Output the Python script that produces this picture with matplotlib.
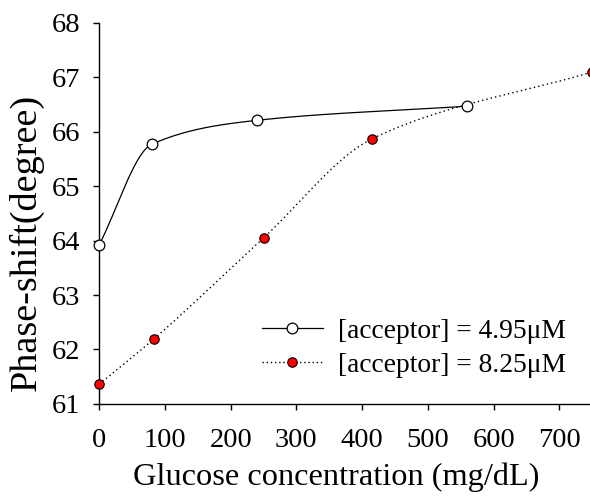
import numpy as np
import matplotlib.pyplot as plt

plt.rcParams['font.family'] = ['Liberation Serif', 'DejaVu Serif']

# Measured phase shift vs glucose concentration
glucose_a = [0, 80, 240, 560]
shift_a = [63.92, 65.77, 66.21, 66.47]
label_a = "[acceptor] = 4.95\u03bcM"

glucose_b = [0, 83, 250, 415, 750]
shift_b = [61.36, 62.19, 64.05, 65.87, 67.10]
label_b = "[acceptor] = 8.25\u03bcM"

x_ticks = [0, 100, 200, 300, 400, 500, 600, 700]
y_ticks = [61, 62, 63, 64, 65, 66, 67, 68]


def smooth_curve(x, y, n=300):
    """Monotone cubic curve through the points, secant slopes at the ends."""
    x = np.asarray(x, float)
    y = np.asarray(y, float)
    h = np.diff(x)
    d = np.diff(y) / h
    m = np.zeros_like(y)
    for k in range(1, len(x) - 1):
        if d[k - 1] * d[k] > 0:
            w1 = 2 * h[k] + h[k - 1]
            w2 = h[k] + 2 * h[k - 1]
            m[k] = (w1 + w2) / (w1 / d[k - 1] + w2 / d[k])
    m[0] = d[0]
    m[-1] = d[-1]

    xs = np.linspace(x[0], x[-1], n)
    idx = np.clip(np.searchsorted(x, xs) - 1, 0, len(x) - 2)
    t = (xs - x[idx]) / h[idx]
    h00 = 2 * t**3 - 3 * t**2 + 1
    h10 = t**3 - 2 * t**2 + t
    h01 = -2 * t**3 + 3 * t**2
    h11 = t**3 - t**2
    ys = (h00 * y[idx] + h10 * h[idx] * m[idx]
          + h01 * y[idx + 1] + h11 * h[idx] * m[idx + 1])
    return xs, ys


fig = plt.figure(figsize=(5.9, 4.98), dpi=100)
ax = fig.add_axes([0.168, 0.189, 0.836, 0.765])

xa, ya = smooth_curve(glucose_a, shift_a)
xb, yb = smooth_curve(glucose_b, shift_b)

ax.plot(xa, ya, color='black', lw=0.9, zorder=2)
ax.plot(xb, yb, color='black', lw=1.0, dashes=(1, 2.2), zorder=2)
ax.plot(glucose_a, shift_a, 'o', ms=7.7, mfc='white', mec='black', mew=0.9,
        zorder=3, clip_on=False)
ax.plot(glucose_b, shift_b, 'o', ms=6.8, mfc='red', mec='black', mew=0.8,
        zorder=3, clip_on=False)

# legend handles: line with marker in the middle
ha, = ax.plot([], [], '-o', color='black', lw=0.9, ms=7.7, mfc='white',
              mec='black', mew=0.9)
hb, = ax.plot([], [], 'o', color='black', lw=1.0, ms=6.8, mfc='red',
              mec='black', mew=0.8, ls=(0, (1, 2)))
ax.legend([ha, hb], [label_a, label_b], loc='center left',
          bbox_to_anchor=(262 / 590, 1 - 348 / 498),
          bbox_transform=fig.transFigure, frameon=False, fontsize=19.8,
          borderpad=0, borderaxespad=0,
          handlelength=2.2, handletextpad=0.58, labelspacing=0.32)

ax.set_xlim(0, 750)
ax.set_ylim(61, 68)
ax.set_xticks(x_ticks)
ax.set_yticks(y_ticks)
ax.spines['top'].set_visible(False)
ax.spines['right'].set_visible(False)
ax.spines['left'].set_linewidth(1.0)
ax.spines['bottom'].set_linewidth(1.0)
ax.tick_params(axis='both', direction='out', length=4.5, width=1.0,
               labelsize=20.5)
ax.tick_params(axis='x', pad=13)
ax.tick_params(axis='y', pad=9)

ax.set_xlabel("Glucose concentration (mg/dL)", fontsize=23.3)
ax.set_ylabel("Phase-shift(degree)", fontsize=27.5)
ax.xaxis.set_label_coords(0.48, -0.1535)
ax.yaxis.set_label_coords(-0.112, 0.425)

fig.savefig("out.png", dpi=100)
